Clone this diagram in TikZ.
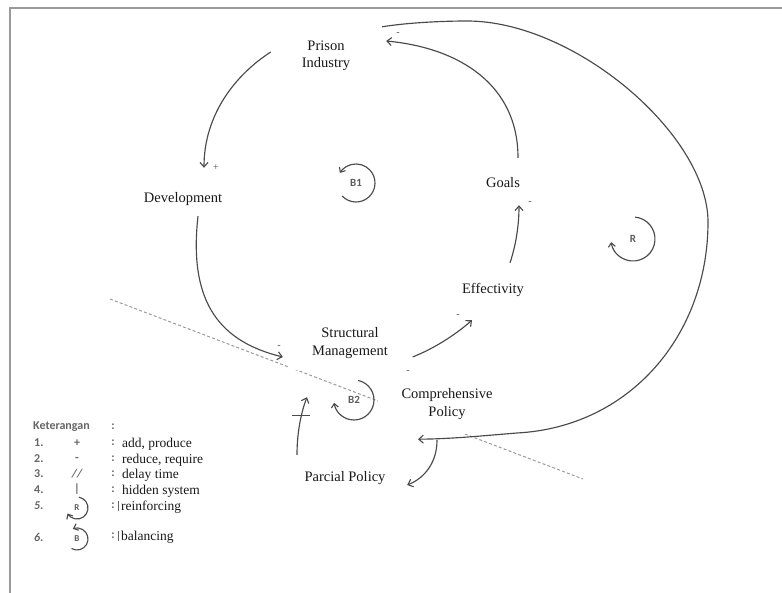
\documentclass[tikz,border=0pt]{standalone}
\usepackage{fontspec}
\setmainfont{Liberation Serif}
\newfontfamily\carlito{Carlito}
\usetikzlibrary{arrows.meta,calc}
\definecolor{ln}{HTML}{4A4A4A}
\definecolor{fr}{HTML}{9A9A9A}
\definecolor{lg}{HTML}{666666}
\tikzset{
  var/.style={fill=white, inner sep=0pt, align=center,
    font=\fontsize{14.5}{17.5}\selectfont, text=black!90},
  link/.style={draw=ln, line width=1.15pt,
    -{Straight Barb[length=4.5pt,width=8pt,line width=1.1pt]}},
  pol/.style={font=\fontsize{10}{10}\selectfont, text=ln, inner sep=0pt},
  loopsym/.style={draw=ln, line width=1.15pt,
    -{Straight Barb[length=4pt,width=7pt,line width=1.1pt]}},
  looplbl/.style={font=\carlito\bfseries\fontsize{11}{11}\selectfont, text=ln!90, inner sep=0pt},
  hiddenline/.style={draw=fr, dash pattern=on 3pt off 2.2pt, line width=1pt},
  legkey/.style={font=\carlito\bfseries\fontsize{12}{13}\selectfont, text=lg, inner sep=0pt},
  legtxt/.style={font=\fontsize{13.5}{15}\selectfont, text=black!90, inner sep=0pt, anchor=west},
  legsym/.style={font=\carlito\bfseries\fontsize{12}{13}\selectfont, text=lg, inner sep=0pt},
  frameline/.style={draw=fr, line width=1.5pt}
}
\begin{document}
\begin{tikzpicture}[x=1pt,y=-1pt]
\useasboundingbox (0,0) rectangle (782,593);
% frame
\coordinate (frA) at (10,593);
\coordinate (frB) at (10,8);
\coordinate (frC) at (782,8);
\draw[frameline] (frA) -- (frB) -- (frC);

% hidden-system dashed line
\coordinate (dashA) at (110,299);
\coordinate (dashB) at (583,479);
\draw[hiddenline] (dashA) -- (dashB);

% variables
\node[var, minimum width=112pt, minimum height=68pt] (pi) at (326,56) {Prison\\Industry};
\node[var, minimum width=80pt, minimum height=30pt] (dev) at (183,199) {Development};
\node[var, minimum width=125pt, minimum height=55pt] (sm) at (350,343) {Structural\\Management};
\node[var, minimum width=76pt, minimum height=50pt] (eff) at (493,290) {Effectivity};
\node[var, minimum width=50pt, minimum height=46pt] (goals) at (503,183) {Goals};
\node[var, minimum width=139pt, minimum height=61pt] (cp) at (447,404) {Comprehensive\\Policy};
\node[var, minimum width=100pt, minimum height=28pt] (pp) at (345,478) {Parcial Policy};

% links
\draw[link] ($(pi.west)+(1,-4)$) .. controls (235,75) and (204,115) .. ($(dev.north)+(21,-16)$);
\draw[link] ($(dev.south)+(15,2)$) .. controls (188,305) and (222,342) .. ($(sm.west)+(-4.5,14)$);
\draw[link] ($(sm.east)+(0,14)$) .. controls (435,348) and (455,335) .. ($(eff.south)+(-21,5)$);
\draw[link] ($(eff.north)+(17,-2)$) .. controls (516,245) and (519,225) .. ($(goals.south)+(16,-1)$);
\draw[link] ($(goals.north)+(15,-2)$) .. controls (518,85) and (460,48) .. ($(pi.east)+(4,-15)$);
\draw[link] ($(pi.north east)+(0,5)$) .. controls (405,23) and (440,21) .. (467,21)
   .. controls (575,21) and (708,135) .. (708,222)
   .. controls (708,335) and (630,427) .. (517,433)
   .. controls (480,436) and (450,439) .. ($(cp.south)+(-29,4.5)$);
\draw[link] ($(cp.south)+(-10,5.5)$) .. controls (437,462) and (425,478) .. ($(pp.east)+(12,7)$);
\draw[link] ($(pp.north)+(-48,-9)$) .. controls (297,430) and (302,410) .. ($(sm.south)+(-43,26.5)$);
\coordinate (hid) at ($(pp.north)+(-44,-48)$);
\coordinate (hidL) at ($(hid)+(-9,0)$);
\coordinate (hidR) at ($(hid)+(9,0)$);
\draw[draw=ln, line width=1.1pt] (hidL) -- (hidR);

% polarity signs
\node[pol] (p1) at (216,168) {+};
\node[pol] (p2) at (279,347) {-};
\node[pol] (p3) at (458,316) {-};
\node[pol] (p4) at (530,203) {-};
\node[pol] (p5) at (398,34) {-};
\node[pol] (p6) at (408,372) {-};

% loop symbols
\node[looplbl] (b1) at (356,183) {B1};
\draw[loopsym] ($(b1.center)+(137:19)$) arc[start angle=137, end angle=-148, radius=19];
\node[looplbl] (rl) at (633,239) {R};
\draw[loopsym] ($(rl.center)+(-85:22)$) arc[start angle=-85, end angle=172, radius=22];
\node[looplbl] (b2) at (354,400) {B2};
\draw[loopsym] ($(b2.center)+(-78:20)$) arc[start angle=-78, end angle=172, radius=20];

% legend
\node[legkey, anchor=west] (ket) at (33,427) {Keterangan};
\node[legkey] (c0) at (113,427) {:};
\node[legkey, anchor=west] (n1) at (34,443) {1.};
\node[legkey, anchor=west] (n2) at (34,459) {2.};
\node[legkey, anchor=west] (n3) at (34,474) {3.};
\node[legkey, anchor=west] (n4) at (34,490) {4.};
\node[legkey, anchor=west] (n5) at (34,506) {\itshape 5.};
\node[legkey, anchor=west] (n6) at (34,537) {\itshape 6.};
\node[legsym] (s1) at (77,443) {+};
\node[legsym] (s2) at (77,459) {-};
\node[legsym] (s3) at (77,474) {\itshape //};
\node[legsym] (s4) at (77,489) {|};
\node[looplbl, font=\carlito\bfseries\fontsize{9}{9}\selectfont] (s5) at (77,508) {R};
\draw[loopsym, line width=1.1pt] ($(s5.center)+(-80:11)$) arc[start angle=-80, end angle=150, radius=11];
\node[looplbl, font=\carlito\bfseries\fontsize{9}{9}\selectfont] (s6) at (77,539) {B};
\draw[loopsym, line width=1.1pt] ($(s6.center)+(120:11)$) arc[start angle=120, end angle=-112, radius=11];
\node[legkey] (c1) at (113,443) {:};
\node[legkey] (c2) at (113,459) {:};
\node[legkey] (c3) at (113,474) {:};
\node[legkey] (c4) at (113,490) {:};
\node[legkey] (c5) at (113,506) {:};
\node[legkey] (c6) at (113,536) {:};
\coordinate (bar5a) at (118,501);
\coordinate (bar5b) at (118,511);
\coordinate (bar6a) at (118,531);
\coordinate (bar6b) at (118,541);
\draw[draw=lg, line width=1pt] (bar5a) -- (bar5b);
\draw[draw=lg, line width=1pt] (bar6a) -- (bar6b);
\node[legtxt] (t1) at (122,444) {add, produce};
\node[legtxt] (t2) at (122,460) {reduce, require};
\node[legtxt] (t3) at (122,475) {delay time};
\node[legtxt] (t4) at (122,491) {hidden system};
\node[legtxt] (t5) at (121,507) {reinforcing};
\node[legtxt] (t6) at (121,537) {balancing};
\end{tikzpicture}
\end{document}
